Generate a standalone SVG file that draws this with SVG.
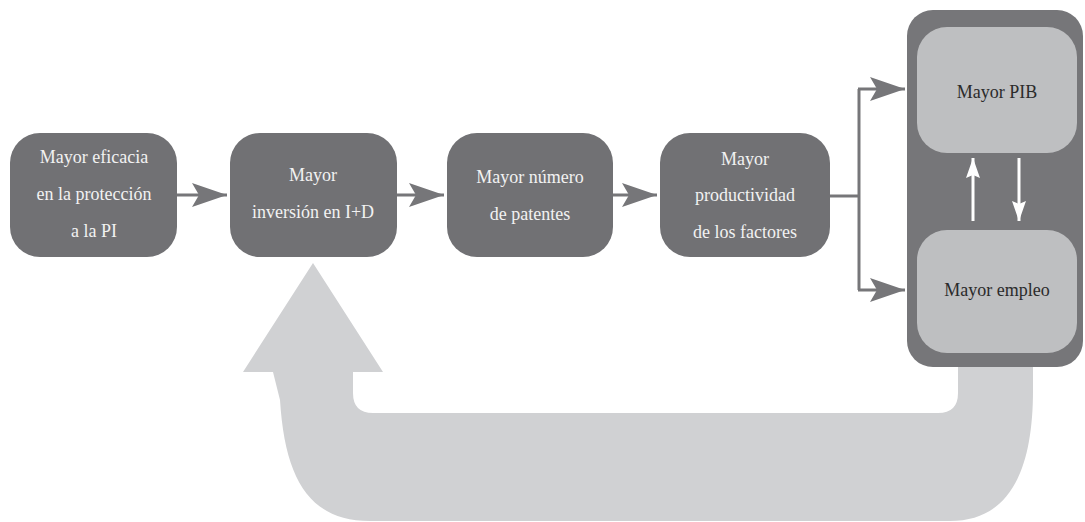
<svg xmlns="http://www.w3.org/2000/svg" width="1085" height="522" viewBox="0 0 1085 522">
  <defs>
    <marker id="ah" markerUnits="userSpaceOnUse" markerWidth="36" markerHeight="26" refX="35" refY="13" orient="auto">
      <path d="M0,1 L35,13 L0,25 L7,13 Z" fill="#767679"/>
    </marker>
    <marker id="wh" markerUnits="userSpaceOnUse" markerWidth="22" markerHeight="16" refX="20" refY="7" orient="auto">
      <path d="M0,0 L20,7 L0,14 L3,7 Z" fill="#ffffff"/>
    </marker>
  </defs>
  <style>
    .dark { fill: #717174; }
    .outer { fill: #767679; }
    .light { fill: #bebfc1; }
    text { font-family: "Liberation Serif", "Times New Roman", Times, serif; font-size: 18px; text-anchor: middle; }
    .tw { fill: #f2f2f2; }
    .tk { fill: #2b2b2b; }
    .conn { stroke: #767679; stroke-width: 3; fill: none; }
    .wa { stroke: #ffffff; stroke-width: 3; fill: none; }
  </style>
  <rect width="1085" height="522" fill="#ffffff"/>

  <g id="feedback">
    <path d="M313,263 L383,372 L353,372 L353,393 Q353,413 373,413 L938,413 Q958,413 958,393 L958,360 L1033,360 L1033,390 C1033,470 1010,521 950,521 L370,521 C310,521 285,480 280,400 L273,372 L243,372 Z" fill="#d0d1d3"/>
  </g>

  <g id="connectors">
    <line class="conn" x1="177" y1="195" x2="227" y2="195" marker-end="url(#ah)"/>
    <line class="conn" x1="397" y1="195" x2="444" y2="195" marker-end="url(#ah)"/>
    <line class="conn" x1="613" y1="195" x2="657" y2="195" marker-end="url(#ah)"/>
    <polyline class="conn" points="830,196 859,196"/>
    <polyline class="conn" points="859,89 859,290"/>
    <line class="conn" x1="858" y1="89" x2="905" y2="89" marker-end="url(#ah)"/>
    <line class="conn" x1="858" y1="290" x2="905" y2="290" marker-end="url(#ah)"/>
  </g>

  <g id="n1">
    <rect class="dark" x="10" y="133" width="167" height="124" rx="30"/>
    <text class="tw" x="94" y="163" font-family="Liberation Serif, serif">Mayor eficacia</text>
    <text class="tw" x="94" y="200" font-family="Liberation Serif, serif">en la protección</text>
    <text class="tw" x="94" y="237" font-family="Liberation Serif, serif">a la PI</text>
  </g>
  <g id="n2">
    <rect class="dark" x="230" y="133" width="167" height="124" rx="30"/>
    <text class="tw" x="313" y="181" font-family="Liberation Serif, serif">Mayor</text>
    <text class="tw" x="313" y="218" font-family="Liberation Serif, serif">inversión en I+D</text>
  </g>
  <g id="n3">
    <rect class="dark" x="447" y="133" width="166" height="124" rx="30"/>
    <text class="tw" x="530" y="183" font-family="Liberation Serif, serif">Mayor número</text>
    <text class="tw" x="530" y="220" font-family="Liberation Serif, serif">de patentes</text>
  </g>
  <g id="n4">
    <rect class="dark" x="660" y="133" width="170" height="124" rx="30"/>
    <text class="tw" x="745" y="165" font-family="Liberation Serif, serif">Mayor</text>
    <text class="tw" x="745" y="201" font-family="Liberation Serif, serif">productividad</text>
    <text class="tw" x="745" y="238" font-family="Liberation Serif, serif">de los factores</text>
  </g>

  <g id="group-right">
    <rect class="outer" x="907" y="10" width="176" height="357" rx="26"/>
  </g>
  <g id="n5">
    <rect class="light" x="917" y="27" width="160" height="126" rx="30"/>
    <text class="tk" x="997" y="98" font-family="Liberation Serif, serif">Mayor PIB</text>
  </g>
  <g id="n6">
    <rect class="light" x="917" y="230" width="160" height="123" rx="30"/>
    <text class="tk" x="997" y="296" font-family="Liberation Serif, serif">Mayor empleo</text>
  </g>
  <g id="inner-arrows">
    <line class="wa" x1="973" y1="221" x2="973" y2="158" marker-end="url(#wh)"/>
    <line class="wa" x1="1019" y1="158" x2="1019" y2="221" marker-end="url(#wh)"/>
  </g>
</svg>
